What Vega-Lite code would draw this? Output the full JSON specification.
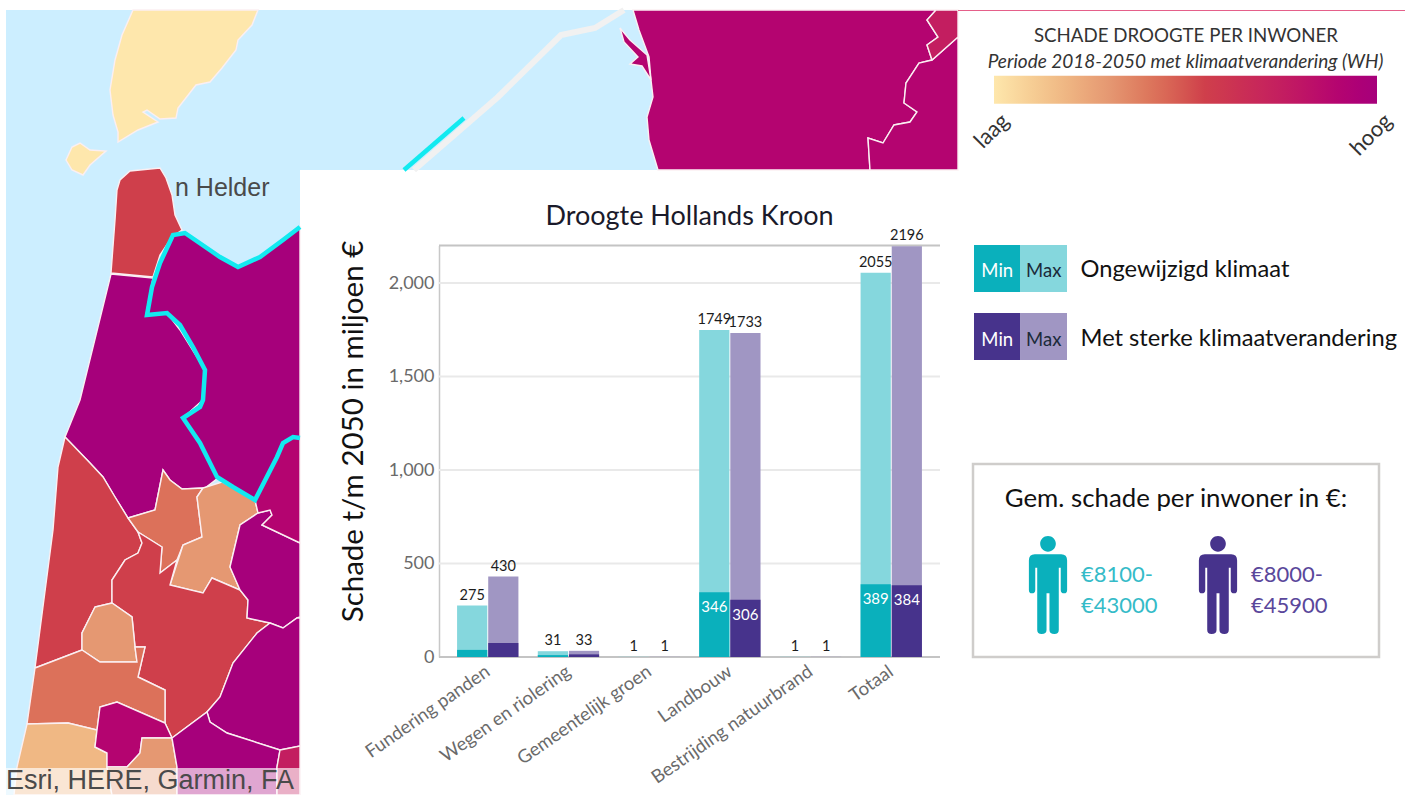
{
"$schema":"https://vega.github.io/schema/vega-lite/v6.json",
"width":1413,"height":795,"padding":0,"autosize":{"type":"none"},"background":"white",
"config":{"font":"Lato","view":{"stroke":null}},
"resolve":{"scale":{"x":"independent","y":"independent"},"axis":{"x":"independent","y":"independent"}},
"layer":[
{"projection":{"type":"identity","scale":1,"translate":[0,0]},
 "data":{"values":[{"type":"Feature","properties":{"naam":"water"},"geometry":{"type":"Polygon","coordinates":[[[6,10],[958,10],[958,170],[300,170],[300,795],[6,795],[6,10]]]}}]},
 "mark":{"type":"geoshape","fill":"#CCEEFF","stroke":null},"encoding":{}},
{"projection":{"type":"identity","scale":1,"translate":[0,0]},
 "data":{"values":[
 {"type":"Feature","properties":{"naam":"Texel","schade":0},"geometry":{"type":"Polygon","coordinates":[[[133,10],[258,10],[252,25],[238,40],[236,50],[222,68],[210,82],[196,85],[178,108],[176,118],[160,119],[147,110],[143,112],[158,122],[138,130],[118,142],[118,132],[113,115],[110,90],[115,60],[122,35],[133,10]]]}},
 {"type":"Feature","properties":{"naam":"Noorderhaaks","schade":0},"geometry":{"type":"Polygon","coordinates":[[[66,160],[72,147],[80,143],[90,150],[106,151],[90,165],[83,175],[72,170],[66,160]]]}},
 {"type":"Feature","properties":{"naam":"Den Helder","schade":55},"geometry":{"type":"Polygon","coordinates":[[[117,190],[120,180],[130,171],[160,168],[166,178],[172,195],[175,215],[182,230],[172,237],[160,255],[153,277],[111,273],[115,220],[117,190]]]}},
 {"type":"Feature","properties":{"naam":"Schagen","schade":100},"geometry":{"type":"Polygon","coordinates":[[[111,274],[153,278],[146,315],[167,313],[180,330],[205,370],[203,400],[183,418],[205,450],[218,478],[205,488],[182,489],[170,480],[163,470],[155,510],[128,518],[115,497],[103,477],[90,463],[65,437],[80,400],[111,274]]]}},
 {"type":"Feature","properties":{"naam":"Hollands Kroon","schade":100},"geometry":{"type":"Polygon","coordinates":[[[173,235],[185,233],[220,257],[238,267],[260,257],[283,240],[300,227],[300,438],[293,437],[283,443],[255,500],[233,487],[217,477],[200,443],[183,418],[203,400],[205,370],[193,347],[180,325],[167,313],[147,315],[152,287],[160,263],[173,235]]]}},
 {"type":"Feature","properties":{"naam":"Bergen","schade":55},"geometry":{"type":"Polygon","coordinates":[[[65,437],[90,463],[103,477],[115,497],[128,518],[138,532],[142,543],[138,553],[125,560],[112,580],[112,603],[95,607],[82,633],[82,650],[35,668],[53,530],[58,467],[65,437]]]}},
 {"type":"Feature","properties":{"naam":"Heerhugowaard","schade":42},"geometry":{"type":"Polygon","coordinates":[[[128,518],[155,510],[163,470],[170,480],[182,489],[203,488],[197,497],[202,537],[183,545],[177,560],[160,573],[162,547],[138,532],[128,518]]]}},
 {"type":"Feature","properties":{"naam":"Langedijk","schade":30},"geometry":{"type":"Polygon","coordinates":[[[203,488],[222,482],[255,500],[258,513],[240,525],[230,567],[240,590],[212,578],[203,593],[170,585],[183,545],[202,537],[197,497],[203,488]]]}},
 {"type":"Feature","properties":{"naam":"Alkmaar","schade":55},"geometry":{"type":"Polygon","coordinates":[[[138,532],[162,547],[160,573],[177,560],[170,585],[203,593],[212,578],[240,590],[248,600],[247,618],[270,623],[257,633],[233,663],[220,697],[207,712],[172,738],[165,723],[165,690],[138,677],[145,647],[135,647],[132,617],[112,603],[112,580],[125,560],[138,553],[142,543],[138,532]]]}},
 {"type":"Feature","properties":{"naam":"Heiloo","schade":30},"geometry":{"type":"Polygon","coordinates":[[[95,607],[112,603],[132,617],[135,647],[137,662],[100,662],[82,650],[82,633],[95,607]]]}},
 {"type":"Feature","properties":{"naam":"Castricum","schade":42},"geometry":{"type":"Polygon","coordinates":[[[35,668],[82,650],[100,662],[137,662],[135,647],[145,647],[138,677],[165,690],[165,723],[117,702],[100,707],[97,730],[68,723],[27,724],[35,668]]]}},
 {"type":"Feature","properties":{"naam":"Beverwijk","schade":18},"geometry":{"type":"Polygon","coordinates":[[[27,724],[68,723],[97,730],[95,747],[107,753],[107,767],[112,795],[14,795],[17,767],[27,724]]]}},
 {"type":"Feature","properties":{"naam":"Uitgeest","schade":90},"geometry":{"type":"Polygon","coordinates":[[[100,707],[117,702],[165,723],[172,738],[142,738],[140,753],[127,767],[107,767],[107,753],[95,747],[97,730],[100,707]]]}},
 {"type":"Feature","properties":{"naam":"Krommenie","schade":30},"geometry":{"type":"Polygon","coordinates":[[[142,738],[172,738],[177,767],[177,795],[112,795],[107,767],[127,767],[140,753],[142,738]]]}},
 {"type":"Feature","properties":{"naam":"Koggenland","schade":100},"geometry":{"type":"Polygon","coordinates":[[[258,513],[270,510],[272,515],[262,525],[300,543],[300,617],[297,618],[283,628],[270,623],[247,618],[248,600],[240,590],[230,567],[240,525],[258,513]]]}},
 {"type":"Feature","properties":{"naam":"Medemblik","schade":90},"geometry":{"type":"Polygon","coordinates":[[[300,438],[293,437],[283,443],[255,500],[258,513],[270,510],[272,515],[262,525],[300,543],[300,438]]]}},
 {"type":"Feature","properties":{"naam":"Beemster","schade":100},"geometry":{"type":"Polygon","coordinates":[[[270,623],[283,628],[297,618],[300,618],[300,746],[280,750],[227,733],[210,722],[207,712],[220,697],[233,663],[257,633],[270,623]]]}},
 {"type":"Feature","properties":{"naam":"Wormerland","schade":100},"geometry":{"type":"Polygon","coordinates":[[[207,712],[210,722],[227,733],[280,750],[277,767],[277,795],[177,795],[177,767],[172,738],[207,712]]]}},
 {"type":"Feature","properties":{"naam":"Purmerend","schade":75},"geometry":{"type":"Polygon","coordinates":[[[280,750],[300,746],[300,795],[277,795],[277,767],[280,750]]]}},
 {"type":"Feature","properties":{"naam":"Friesland west","schade":90},"geometry":{"type":"Polygon","coordinates":[[[633,10],[936,10],[927,20],[938,37],[927,45],[932,60],[919,63],[906,83],[904,103],[917,112],[910,122],[894,125],[883,143],[868,138],[870,170],[658,170],[649,140],[647,117],[653,97],[651,80],[649,57],[639,30],[633,10]]]}},
 {"type":"Feature","properties":{"naam":"Friesland oost","schade":90},"geometry":{"type":"Polygon","coordinates":[[[958,37],[932,60],[919,63],[906,83],[904,103],[917,112],[910,122],[894,125],[883,143],[868,138],[870,170],[958,170],[958,37]]]}},
 {"type":"Feature","properties":{"naam":"Friesland noord","schade":75},"geometry":{"type":"Polygon","coordinates":[[[936,10],[958,10],[958,37],[932,60],[927,45],[938,37],[927,20],[936,10]]]}},
 {"type":"Feature","properties":{"naam":"Eiland","schade":90},"geometry":{"type":"Polygon","coordinates":[[[620,28],[630,40],[647,55],[651,80],[642,66],[630,64],[638,57],[624,42],[620,28]]]}}
 ]},
 "mark":{"type":"geoshape","stroke":"#FBEFF2","strokeWidth":1.4},
 "encoding":{"color":{"field":"properties.schade","type":"quantitative",
  "scale":{"domain":[0,30,55,100],"range":["#FEE7AC","#E59872","#CF3F4B","#A6007B"]},
  "legend":{"orient":"none","legendX":994,"legendY":27,"direction":"horizontal","title":"SCHADE DROOGTE PER INWONER","titleFontSize":18.7,"titleFontWeight":"normal","titleColor":"#333","titleAnchor":"middle","titleLimit":600,"titlePadding":30,"gradientLength":383,"gradientThickness":28,"gradientStrokeWidth":0,"values":[0,100],"labelExpr":"datum.value == 0 ? 'laag' : 'hoog'","labelFontSize":22,"labelColor":"#333","labelOffset":8,"tickCount":2,
   "encoding":{"labels":{"angle":{"value":-45},"align":{"value":"right"},"baseline":{"value":"middle"},"dx":{"value":4},"dy":{"value":12}}}}}}},
{"projection":{"type":"identity","scale":1,"translate":[0,0]},
 "data":{"values":[{"type":"Feature","properties":{"naam":"Afsluitdijk"},"geometry":{"type":"LineString","coordinates":[[624,10],[595,28],[561,35],[498,97],[414,170]]}}]},
 "mark":{"type":"geoshape","filled":false,"stroke":"#F1F1F1","strokeWidth":6},"encoding":{}},
{"projection":{"type":"identity","scale":1,"translate":[0,0]},
 "data":{"values":[
 {"type":"Feature","properties":{"naam":"Grens dijk"},"geometry":{"type":"LineString","coordinates":[[404,170],[464,118]]}},
 {"type":"Feature","properties":{"naam":"Grens Hollands Kroon"},"geometry":{"type":"LineString","coordinates":[[300,227],[283,240],[260,257],[238,267],[220,257],[185,233],[173,235],[160,263],[152,287],[147,315],[167,313],[180,325],[193,347],[205,370],[203,400],[200,407],[183,418],[200,443],[217,477],[233,487],[255,500],[277,457],[283,443],[293,437],[300,438]]}}
 ]},
 "mark":{"type":"geoshape","filled":false,"stroke":"#12EAF0","strokeWidth":4.5},"encoding":{}},
{"projection":{"type":"identity","scale":1,"translate":[0,0]},
 "data":{"values":[{"type":"Feature","properties":{"naam":"Kaartrand"},"geometry":{"type":"LineString","coordinates":[[958,10.5],[1405,10.5]]}}]},
 "mark":{"type":"geoshape","filled":false,"stroke":"#E5608A","strokeWidth":1},"encoding":{}},
{"projection":{"type":"identity","scale":1,"translate":[0,0]},
 "data":{"values":[{"type":"Feature","properties":{"naam":"Bronstrook"},"geometry":{"type":"Polygon","coordinates":[[[6,768],[300,768],[300,795],[6,795],[6,768]]]}}]},
 "mark":{"type":"geoshape","fill":"white","fillOpacity":0.65,"stroke":null},"encoding":{}},
{"projection":{"type":"identity","scale":1,"translate":[0,0]},
 "data":{"values":[{"lengte":175,"breedte":188,"tekst":"n Helder","grootte":"klein"},{"lengte":6,"breedte":781,"tekst":"Esri, HERE, Garmin, FA","grootte":"groot"}]},
 "mark":{"type":"text","font":"Liberation Sans","align":"left","baseline":"middle","fill":"#4A4A4A"},
 "encoding":{"longitude":{"field":"lengte","type":"quantitative"},"latitude":{"field":"breedte","type":"quantitative"},"text":{"field":"tekst"},
  "size":{"field":"grootte","type":"nominal","scale":{"domain":["klein","groot"],"range":[25,27]},"legend":null}}},
{"data":{"values":[{"tick":0,"soort":"as"},{"tick":500,"soort":"raster"},{"tick":1000,"soort":"raster"},{"tick":1500,"soort":"raster"},{"tick":2000,"soort":"raster"},{"tick":2200,"soort":"as"}]},
 "mark":{"type":"rule","strokeWidth":2},
 "encoding":{"y":{"field":"tick","type":"quantitative","scale":{"domain":[0,2200],"range":[657,245.6]},"axis":null},
  "x":{"datum":0,"scale":{"domain":[0,1],"range":[439,940]},"axis":null,"type":"quantitative"},"x2":{"datum":1},
  "color":{"field":"soort","type":"nominal","scale":{"domain":["as","raster"],"range":["#C4C4C4","#E9E9E9"]},"legend":null}}},
{"data":{"values":[{"titel":"Droogte Hollands Kroon"}]},
 "mark":{"type":"text","fontSize":27,"fill":"#1A1A2A","dy":-29},
 "encoding":{"text":{"field":"titel"},"x":{"datum":0.5,"type":"quantitative","scale":{"domain":[0,1],"range":[439,940]},"axis":null},
  "y":{"datum":2200,"type":"quantitative","scale":{"domain":[0,2200],"range":[657,245.6]},"axis":null}}},
{"data":{"name":"schade","values":[
 {"categorie":"Fundering panden","klimaat":"Ongewijzigd klimaat","niveau":"Max","reeks":"Ongewijzigd Max","waarde":275},
 {"categorie":"Fundering panden","klimaat":"Met sterke klimaatverandering","niveau":"Max","reeks":"Sterk Max","waarde":430},
 {"categorie":"Wegen en riolering","klimaat":"Ongewijzigd klimaat","niveau":"Max","reeks":"Ongewijzigd Max","waarde":31},
 {"categorie":"Wegen en riolering","klimaat":"Met sterke klimaatverandering","niveau":"Max","reeks":"Sterk Max","waarde":33},
 {"categorie":"Gemeentelijk groen","klimaat":"Ongewijzigd klimaat","niveau":"Max","reeks":"Ongewijzigd Max","waarde":1},
 {"categorie":"Gemeentelijk groen","klimaat":"Met sterke klimaatverandering","niveau":"Max","reeks":"Sterk Max","waarde":1},
 {"categorie":"Landbouw","klimaat":"Ongewijzigd klimaat","niveau":"Max","reeks":"Ongewijzigd Max","waarde":1749},
 {"categorie":"Landbouw","klimaat":"Met sterke klimaatverandering","niveau":"Max","reeks":"Sterk Max","waarde":1733},
 {"categorie":"Bestrijding natuurbrand","klimaat":"Ongewijzigd klimaat","niveau":"Max","reeks":"Ongewijzigd Max","waarde":1},
 {"categorie":"Bestrijding natuurbrand","klimaat":"Met sterke klimaatverandering","niveau":"Max","reeks":"Sterk Max","waarde":1},
 {"categorie":"Totaal","klimaat":"Ongewijzigd klimaat","niveau":"Max","reeks":"Ongewijzigd Max","waarde":2055},
 {"categorie":"Totaal","klimaat":"Met sterke klimaatverandering","niveau":"Max","reeks":"Sterk Max","waarde":2196},
 {"categorie":"Fundering panden","klimaat":"Ongewijzigd klimaat","niveau":"Min","reeks":"Ongewijzigd Min","waarde":38},
 {"categorie":"Fundering panden","klimaat":"Met sterke klimaatverandering","niveau":"Min","reeks":"Sterk Min","waarde":75},
 {"categorie":"Wegen en riolering","klimaat":"Ongewijzigd klimaat","niveau":"Min","reeks":"Ongewijzigd Min","waarde":10},
 {"categorie":"Wegen en riolering","klimaat":"Met sterke klimaatverandering","niveau":"Min","reeks":"Sterk Min","waarde":14},
 {"categorie":"Landbouw","klimaat":"Ongewijzigd klimaat","niveau":"Min","reeks":"Ongewijzigd Min","waarde":346},
 {"categorie":"Landbouw","klimaat":"Met sterke klimaatverandering","niveau":"Min","reeks":"Sterk Min","waarde":306},
 {"categorie":"Totaal","klimaat":"Ongewijzigd klimaat","niveau":"Min","reeks":"Ongewijzigd Min","waarde":389},
 {"categorie":"Totaal","klimaat":"Met sterke klimaatverandering","niveau":"Min","reeks":"Sterk Min","waarde":384}
 ]},
 "encoding":{
  "x":{"field":"categorie","type":"nominal","sort":null,
   "scale":{"type":"band","domain":["Fundering panden","Wegen en riolering","Gemeentelijk groen","Landbouw","Bestrijding natuurbrand","Totaal"],"range":[439,940],"paddingInner":0.24,"paddingOuter":0.224},
   "axis":{"orient":"bottom","offset":-138,"title":null,"domain":false,"ticks":false,"labelAngle":-35,"labelAlign":"right","labelBaseline":"middle","labelPadding":12,"labelFontSize":18.5,"labelColor":"#6A6A6A","labelLimit":300,"grid":false}},
  "xOffset":{"field":"klimaat","type":"nominal","sort":null,"scale":{"domain":["Ongewijzigd klimaat","Met sterke klimaatverandering"],"paddingInner":0.03}},
  "y":{"field":"waarde","type":"quantitative","stack":null,
   "scale":{"domain":[0,2200],"range":[657,245.6]},
   "axis":{"orient":"left","offset":-439,"title":"Schade t/m 2050 in miljoen €","titleFontSize":29.5,"titleFontWeight":"normal","titleColor":"#111","titleX":-71,"titleY":431,"values":[0,500,1000,1500,2000],"format":",d","domain":true,"domainColor":"#C8C8C8","domainWidth":1.5,"ticks":false,"grid":false,"labelFontSize":18,"labelColor":"#6A6A6A","labelPadding":5}}},
 "layer":[
  {"mark":{"type":"bar"},"encoding":{"fill":{"field":"reeks","type":"nominal","scale":{"domain":["Ongewijzigd Min","Ongewijzigd Max","Sterk Min","Sterk Max"],"range":["#0AB0BC","#85D7DD","#47338C","#A096C3"]},"legend":null}}},
  {"transform":[{"filter":"datum.niveau == 'Max'"}],"mark":{"type":"text","fontSize":14.5,"fill":"#1C1C1C","dy":-10},"encoding":{"text":{"field":"waarde","type":"quantitative","format":"d"}}},
  {"transform":[{"filter":"datum.niveau == 'Min' && datum.waarde > 300"}],"mark":{"type":"text","fontSize":15,"fill":"white","dy":15},"encoding":{"text":{"field":"waarde","type":"quantitative","format":"d"}}}
 ]},
{"data":{"values":[
 {"klimaat":"Ongewijzigd klimaat","niveau":"Min","reeks":"Ongewijzigd Min"},
 {"klimaat":"Ongewijzigd klimaat","niveau":"Max","reeks":"Ongewijzigd Max"},
 {"klimaat":"Met sterke klimaatverandering","niveau":"Min","reeks":"Sterk Min"},
 {"klimaat":"Met sterke klimaatverandering","niveau":"Max","reeks":"Sterk Max"}]},
 "encoding":{
  "x":{"field":"niveau","type":"nominal","sort":null,"scale":{"type":"band","domain":["Min","Max"],"range":[974,1067],"padding":0},"axis":null},
  "y":{"field":"klimaat","type":"nominal","sort":null,"scale":{"type":"band","domain":["Ongewijzigd klimaat","Met sterke klimaatverandering"],"range":[245,360],"paddingInner":0.31,"paddingOuter":0},
   "axis":{"orient":"right","offset":-346,"title":null,"domain":false,"ticks":false,"labelFontSize":23.7,"labelColor":"#111","labelPadding":13,"labelLimit":400,"labelOffset":2}}},
 "layer":[
  {"mark":{"type":"rect"},"encoding":{"fill":{"field":"reeks","type":"nominal","legend":null}}},
  {"mark":{"type":"text","fontSize":18.5,"dy":3},"encoding":{"text":{"field":"niveau"},"color":{"condition":{"test":"datum.niveau == 'Min'","value":"white"},"value":"#1B2A3A"}}}
 ]},
{"data":{"values":[{"titel":"Periode 2018-2050 met klimaatverandering (WH)"}]},
 "mark":{"type":"text","fontSize":19,"fontStyle":"italic","fill":"#333"},
 "encoding":{"text":{"field":"titel"},
  "x":{"datum":0.5,"type":"quantitative","scale":{"domain":[0,1],"range":[994,1377]},"axis":null},
  "y":{"datum":0.5,"type":"quantitative","scale":{"domain":[0,1],"range":[74,50]},"axis":null}}},
{"data":{"values":[{"titel":"Gem. schade per inwoner in €:"}]},
 "encoding":{"x":{"datum":0,"type":"quantitative","scale":{"domain":[0,1],"range":[973,1379]},"axis":null},
  "y":{"datum":0,"type":"quantitative","scale":{"domain":[0,1],"range":[464,657]},"axis":null}},
 "layer":[
  {"mark":{"type":"rect","fill":"white","stroke":"#CFCDCB","strokeWidth":2.5},"encoding":{"x2":{"datum":1},"y2":{"datum":1}}},
  {"mark":{"type":"text","fontSize":25.8,"fill":"#111"},"encoding":{"text":{"field":"titel"},"x":{"datum":0.5,"type":"quantitative","scale":{"domain":[0,1],"range":[973,1379]},"axis":null},"y":{"datum":0.18,"type":"quantitative","scale":{"domain":[0,1],"range":[464,657]},"axis":null}}}
 ]},
{"data":{"values":[
 {"klimaat":"Ongewijzigd klimaat","reeks":"Ongewijzigd Min","bedrag":"€8100-\n€43000"},
 {"klimaat":"Met sterke klimaatverandering","reeks":"Sterk Min","bedrag":"€8000-\n€45900"}]},
 "encoding":{
  "x":{"field":"klimaat","type":"nominal","sort":null,"scale":{"type":"point","domain":["Ongewijzigd klimaat","Met sterke klimaatverandering"],"range":[1048,1218],"padding":0},"axis":null},
  "y":{"datum":0.5,"type":"quantitative","scale":{"domain":[0,1],"range":[634,536]},"axis":null}},
 "layer":[
  {"mark":{"type":"point","filled":true,"opacity":1,"size":9604,"shape":"M-0.16 -0.84A0.16 0.16 0 1 1 0.16 -0.84A0.16 0.16 0 1 1 -0.16 -0.84ZM-0.27 -0.63L0.27 -0.63Q0.39 -0.63 0.39 -0.5L0.39 0.1Q0.39 0.17 0.33 0.17Q0.26 0.17 0.26 0.1L0.26 -0.35L0.22 -0.35L0.22 0.92Q0.22 1 0.13 1Q0.03 1 0.03 0.92L0.03 0.17L-0.03 0.17L-0.03 0.92Q-0.03 1 -0.13 1Q-0.22 1 -0.22 0.92L-0.22 -0.35L-0.26 -0.35L-0.26 0.1Q-0.26 0.17 -0.33 0.17Q-0.39 0.17 -0.39 0.1L-0.39 -0.5Q-0.39 -0.63 -0.27 -0.63Z"},
   "encoding":{"fill":{"field":"reeks","type":"nominal","legend":null}}},
  {"mark":{"type":"text","align":"left","baseline":"middle","dx":33,"dy":-10,"fontSize":22,"lineHeight":31,"lineBreak":"\n"},
   "encoding":{"text":{"field":"bedrag"},"color":{"condition":{"test":"datum.reeks == 'Ongewijzigd Min'","value":"#35BBC8"},"value":"#5A479B"}}}
 ]}
]}
